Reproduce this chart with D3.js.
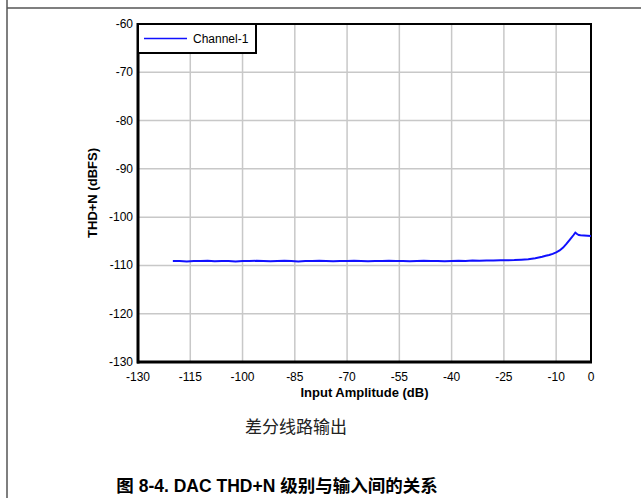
<!DOCTYPE html>
<html><head><meta charset="utf-8">
<script src="https://cdn.jsdelivr.net/npm/d3@7"></script>
<style>body{margin:0;background:#fff;}svg{display:block;}</style>
</head><body>
<svg id="c" width="641" height="498"></svg>
<script>
const xTicks = [-130, -115, -100, -85, -70, -55, -40, -25, -10, 0];
const yTicks = [-60, -70, -80, -90, -100, -110, -120, -130];
const seriesName = "Channel-1";
const inputAmp = [-120,-118,-116,-114,-112,-110,-108,-106,-104,-102,-100,-98,-96,-94,-92,-90,-88,-86,-84,-82,-80,-78,-76,-74,-72,-70,-68,-66,-64,-62,-60,-58,-56,-54,-52,-50,-48,-46,-44,-42,-40,-38,-36,-34,-32,-30,-28,-26,-24,-22,-20,-19,-18,-17,-16,-15,-14,-13,-12,-11,-10,-9,-8,-7,-6,-5,-4.5,-4,-3.5,-3,-2,-1,0];
const thdn = [-109.1,-109.1,-109.2,-109.1,-109.1,-109.05,-109.15,-109.1,-109.1,-109.2,-109.1,-109.1,-109.05,-109.1,-109.15,-109.1,-109.05,-109.1,-109.2,-109.1,-109.1,-109.05,-109.1,-109.15,-109.1,-109.1,-109.05,-109.1,-109.15,-109.1,-109.1,-109.05,-109.1,-109.1,-109.15,-109.1,-109.05,-109.1,-109.1,-109.15,-109.1,-109.05,-109.1,-109.0,-109.05,-109.0,-109.0,-108.95,-108.95,-108.9,-108.8,-108.75,-108.7,-108.6,-108.5,-108.35,-108.2,-108.0,-107.85,-107.6,-107.3,-106.9,-106.3,-105.5,-104.6,-103.7,-103.2,-103.5,-103.7,-103.75,-103.8,-103.85,-103.9];
const caption = "差分线路输出";
const figTitle = "图 8-4. DAC THD+N 级别与输入间的关系";
const xTitle = "Input Amplitude (dB)";
const yTitle = "THD+N (dBFS)";

const svg = d3.select("#c");
const L = 138, R = 591, T = 24, B = 362;
const x = d3.scaleLinear().domain([-130, 0]).range([L, R]);
const y = d3.scaleLinear().domain([-130, -60]).range([B, T]);
const font = "Arial, 'Liberation Sans', sans-serif";

// page border lines
svg.append("line").attr("x1",7).attr("x2",7).attr("y1",0).attr("y2",498).attr("stroke","#555").attr("stroke-width",1.5);
svg.append("line").attr("x1",7).attr("x2",641).attr("y1",8).attr("y2",8).attr("stroke","#555").attr("stroke-width",1.5);

// grid
svg.append("g").selectAll("line").data(xTicks.filter(d=>d>-130 && d<0)).join("line")
  .attr("x1",d=>x(d)).attr("x2",d=>x(d)).attr("y1",T).attr("y2",B)
  .attr("stroke","#c8c8c8").attr("stroke-width",1.5);
svg.append("g").selectAll("line").data(yTicks.filter(d=>d>-130 && d<-60)).join("line")
  .attr("x1",L).attr("x2",R).attr("y1",d=>y(d)).attr("y2",d=>y(d))
  .attr("stroke","#c8c8c8").attr("stroke-width",1.5);

// frame
svg.append("rect").attr("x",L).attr("y",T).attr("width",R-L).attr("height",B-T)
  .attr("fill","none").attr("stroke","#000").attr("stroke-width",2);
svg.append("line").attr("x1",L).attr("x2",L).attr("y1",T-1).attr("y2",B+1.5).attr("stroke","#000").attr("stroke-width",3);
svg.append("line").attr("x1",L-1).attr("x2",R+1).attr("y1",B).attr("y2",B).attr("stroke","#000").attr("stroke-width",3);

// tick labels
svg.append("g").selectAll("text").data(xTicks).join("text")
  .attr("x",d=>x(d)).attr("y",B+19).attr("text-anchor","middle")
  .attr("font-family",font).attr("font-size",12).attr("fill","#000").text(d=>d);
svg.append("g").selectAll("text").data(yTicks).join("text")
  .attr("x",L-5).attr("y",d=>y(d)+4).attr("text-anchor","end")
  .attr("font-family",font).attr("font-size",12).attr("fill","#000").text(d=>d);

// axis titles
svg.append("text").attr("x",(L+R)/2).attr("y",B+35).attr("text-anchor","middle")
  .attr("font-family",font).attr("font-size",13).attr("font-weight","bold").text(xTitle);
svg.append("text").attr("transform",`translate(${97},${(T+B)/2}) rotate(-90)`).attr("text-anchor","middle")
  .attr("font-family",font).attr("font-size",13).attr("font-weight","bold").text(yTitle);

// line
const pts = inputAmp.map((d,i)=>[d, thdn[i]]);
svg.append("path").datum(pts)
  .attr("d", d3.line().x(d=>x(d[0])).y(d=>y(d[1])))
  .attr("fill","none").attr("stroke","#1010ff").attr("stroke-width",2);

// legend
svg.append("rect").attr("x",L).attr("y",T).attr("width",118).attr("height",29)
  .attr("fill","#fff").attr("stroke","#000").attr("stroke-width",2);
svg.append("line").attr("x1",144).attr("x2",187).attr("y1",38.5).attr("y2",38.5).attr("stroke","#1010ff").attr("stroke-width",1.5);
svg.append("text").attr("x",193).attr("y",42.5).attr("font-family",font).attr("font-size",12).text(seriesName);

// caption and title
svg.append("text").attr("x",296).attr("y",433).attr("text-anchor","middle")
  .attr("font-family","'Noto Sans CJK SC', sans-serif").attr("font-size",17).attr("fill","#222").text(caption);
svg.append("text").attr("x",277).attr("y",492).attr("text-anchor","middle")
  .attr("font-family","Arial, 'Liberation Sans', 'Noto Sans CJK SC', sans-serif").attr("font-size",17.5).attr("font-weight","bold").attr("fill","#000").text(figTitle);
</script>
</body></html>
